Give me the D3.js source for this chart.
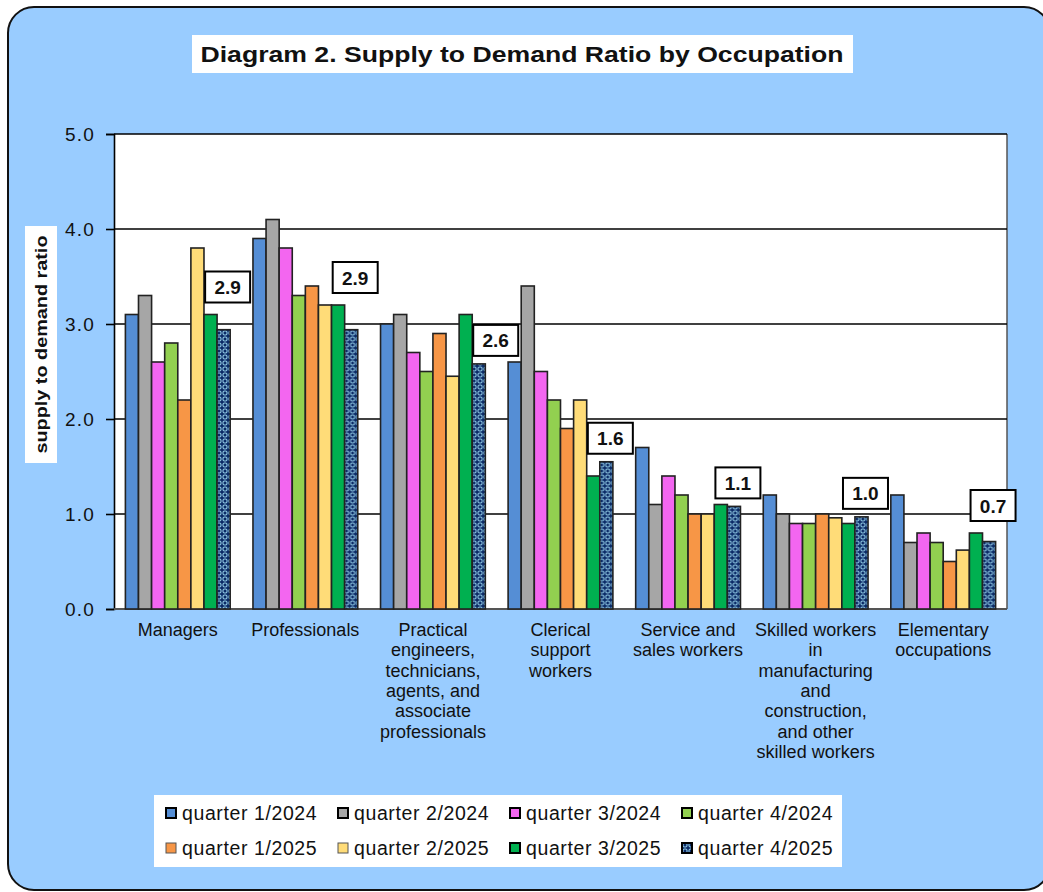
<!doctype html>
<html lang="en">
  <head>
    <meta charset="UTF-8" />
    <title>Supply to Demand Ratio by Occupation</title>
    <style>
      body { margin: 0; background: #fff; }
      text { font-family: 'Liberation Sans', Arial, sans-serif; fill: #111; }
      .grid { stroke: #000; stroke-width: 1.6px; }
      .bar { stroke: #222; stroke-width: 1.6px; }
    </style>
  </head>
  <body>
    <div id="chart"></div>

    <script src="https://d3js.org/d3.v7.min.js"></script>
    <script>
      // category labels, already broken into lines like the original
      const categoryLines = [
        ['Managers'],
        ['Professionals'],
        ['Practical', 'engineers,', 'technicians,', 'agents, and', 'associate', 'professionals'],
        ['Clerical', 'support', 'workers'],
        ['Service and', 'sales workers'],
        ['Skilled workers', 'in', 'manufacturing', 'and', 'construction,', 'and other', 'skilled workers'],
        ['Elementary', 'occupations'],
      ];

      const seriesNames = [
        'quarter 1/2024', 'quarter 2/2024', 'quarter 3/2024', 'quarter 4/2024',
        'quarter 1/2025', 'quarter 2/2025', 'quarter 3/2025', 'quarter 4/2025',
      ];

      // values
      const q1_2024 = [3.1, 3.9, 3.0, 2.6, 1.7, 1.2, 1.2];
      const q2_2024 = [3.3, 4.1, 3.1, 3.4, 1.1, 1.0, 0.7];
      const q3_2024 = [2.6, 3.8, 2.7, 2.5, 1.4, 0.9, 0.8];
      const q4_2024 = [2.8, 3.3, 2.5, 2.2, 1.2, 0.9, 0.7];
      const q1_2025 = [2.2, 3.4, 2.9, 1.9, 1.0, 1.0, 0.5];
      const q2_2025 = [3.8, 3.2, 2.45, 2.2, 1.0, 0.96, 0.62];
      const q3_2025 = [3.1, 3.2, 3.1, 1.4, 1.1, 0.9, 0.8];
      const q4_2025 = [2.94, 2.94, 2.58, 1.55, 1.08, 0.97, 0.71];

      const yTicks = [0, 1, 2, 3, 4, 5];

      const seriesValues = [q1_2024, q2_2024, q3_2024, q4_2024, q1_2025, q2_2025, q3_2025, q4_2025];
      const colors = ['#558ed5', '#a6a6a6', '#f366f0', '#92d050', '#f79646', '#ffdc78', '#00b050', 'url(#chain)'];

      const width = 1043;
      const height = 892;

      const svg = d3.select('#chart').append('svg').attr('width', width).attr('height', height);

      // chain-like pattern used by the last series
      const pat = svg.append('defs').append('pattern')
        .attr('id', 'chain').attr('patternUnits', 'userSpaceOnUse')
        .attr('width', 6).attr('height', 6);
      pat.append('rect').attr('width', 6).attr('height', 6).attr('fill', '#0b2a66');
      pat.append('rect').attr('x', 1).attr('y', 1).attr('width', 4).attr('height', 4).attr('rx', 1.5)
        .attr('fill', 'none').attr('stroke', '#93cde6').attr('stroke-width', 1.1);

      // outer rounded frame
      svg.append('rect')
        .attr('x', 8).attr('y', 7).attr('width', 1042).attr('height', 883).attr('rx', 26)
        .attr('fill', '#99ccff').attr('stroke', '#111').attr('stroke-width', 2);

      // title
      svg.append('rect').attr('x', 192).attr('y', 35).attr('width', 661).attr('height', 38).attr('fill', '#fff');
      svg.append('text')
        .attr('x', 522).attr('y', 62).attr('text-anchor', 'middle')
        .attr('font-size', 22).attr('font-weight', 'bold')
        .attr('textLength', 643).attr('lengthAdjust', 'spacingAndGlyphs')
        .text('Diagram 2. Supply to Demand Ratio by Occupation');

      // scales
      const x0 = d3.scaleBand().domain(d3.range(categoryLines.length)).range([114, 1007]);
      const x1 = d3.scaleBand().domain(d3.range(seriesNames.length)).range([0, x0.bandwidth()]).paddingOuter(0.87);
      const y = d3.scaleLinear().domain([0, 5]).range([609, 134]);

      // plot area
      svg.append('rect').attr('x', 114).attr('y', 134).attr('width', 893).attr('height', 475).attr('fill', '#fff');
      svg.append('line').attr('x1', 1007).attr('x2', 1007).attr('y1', 134).attr('y2', 609)
        .attr('stroke', '#555').attr('stroke-width', 1.5);

      svg.selectAll('.grid')
        .data(yTicks.filter((d) => d > 0))
        .enter()
        .append('line')
        .attr('class', 'grid')
        .attr('x1', 114).attr('x2', 1007)
        .attr('y1', (d) => y(d)).attr('y2', (d) => y(d));

      // y axis
      const yAxis = d3.axisLeft(y).tickValues(yTicks).tickFormat(d3.format('.1f')).tickSize(8).tickPadding(11);
      const gy = svg.append('g').attr('transform', 'translate(114,0)').call(yAxis);
      gy.select('.domain').attr('stroke', '#000').attr('stroke-width', 1.6);
      gy.selectAll('.tick line').attr('stroke', '#000').attr('stroke-width', 1.6);
      gy.selectAll('.tick text')
        .attr('font-size', 19).attr('fill', '#111').attr('letter-spacing', 1.2)
        .style('font-family', "'Liberation Sans', Arial, sans-serif");

      svg.append('line').attr('x1', 114).attr('x2', 1007).attr('y1', 609).attr('y2', 609)
        .attr('stroke', '#555').attr('stroke-width', 2);

      // y axis title
      svg.append('rect').attr('x', 25).attr('y', 226).attr('width', 32).attr('height', 237).attr('fill', '#fff');
      svg.append('text')
        .attr('transform', 'translate(47,344.5) rotate(-90)')
        .attr('text-anchor', 'middle')
        .attr('font-size', 17).attr('font-weight', 'bold')
        .attr('textLength', 218).attr('lengthAdjust', 'spacingAndGlyphs')
        .text('supply to demand ratio');

      // bars
      const groups = svg.selectAll('.group')
        .data(categoryLines)
        .enter()
        .append('g')
        .attr('class', 'group')
        .attr('transform', (d, i) => `translate(${x0(i)},0)`);

      groups.selectAll('rect')
        .data((d, i) => seriesValues.map((s, k) => ({ k: k, v: s[i] })))
        .enter()
        .append('rect')
        .attr('class', 'bar')
        .attr('x', (d) => x1(d.k))
        .attr('width', x1.bandwidth())
        .attr('y', (d) => y(d.v))
        .attr('height', (d) => y(0) - y(d.v))
        .attr('fill', (d) => colors[d.k])
        .attr('stroke', (d) => (d.k === 7 ? '#000' : '#222'))
        .attr('stroke-width', (d) => (d.k === 7 ? 3 : 1.6));

      // data labels for the last quarter
      const last = seriesValues.length - 1;
      const boxW = 45;
      const boxH = 31;
      groups.each(function (d, i) {
        const g = d3.select(this);
        const v = q4_2025[i];
        const prev = q3_2025[i];
        let cx = x1(last) + x1.bandwidth() / 2 + 4;
        let bottom = y(v) - 8;
        const prevRight = x1(last - 1) + x1.bandwidth();
        // collides with the neighbouring bar?
        if (cx - boxW / 2 < prevRight && bottom > y(prev) - 2) {
          if (y(v) - y(prev) > boxH + 10) {
            cx = prevRight + 1 + boxW / 2; // room beside it
          } else {
            bottom = y(prev) - 12; // lift above it
          }
        }
        g.append('rect')
          .attr('x', cx - boxW / 2).attr('y', bottom - boxH)
          .attr('width', boxW).attr('height', boxH)
          .attr('fill', '#fff').attr('stroke', '#000').attr('stroke-width', 2);
        g.append('text')
          .attr('x', cx).attr('y', bottom - boxH / 2 + 7)
          .attr('text-anchor', 'middle')
          .attr('font-size', 19).attr('font-weight', 'bold')
          .text(d3.format('.1f')(v));
      });

      // category labels
      groups.append('text')
        .attr('text-anchor', 'middle')
        .attr('font-size', 18)
        .attr('fill', '#222')
        .selectAll('tspan')
        .data((d) => d)
        .enter()
        .append('tspan')
        .attr('x', x0.bandwidth() / 2)
        .attr('y', (d, j) => 636 + j * 20.3)
        .text((d) => d);

      // legend
      svg.append('rect').attr('x', 154).attr('y', 795).attr('width', 688).attr('height', 72).attr('fill', '#fff');
      const legend = svg.selectAll('.legend')
        .data(seriesNames)
        .enter()
        .append('g')
        .attr('class', 'legend')
        .attr('transform', (d, i) => `translate(${166 + (i % 4) * 172},${i < 4 ? 813 : 848})`);
      legend.append('rect')
        .attr('x', 0).attr('y', -5).attr('width', 10).attr('height', 10)
        .attr('fill', (d, i) => colors[i])
        .attr('stroke', (d, i) => (i === 4 || i === 5 ? '#555' : '#000'))
        .attr('stroke-width', (d, i) => (i === 4 || i === 5 ? 1 : 2));
      legend.append('text')
        .attr('x', 16).attr('y', 7)
        .attr('font-size', 19.5).attr('letter-spacing', 0.6)
        .attr('fill', '#222')
        .text((d) => d);
    </script>
  </body>
</html>
